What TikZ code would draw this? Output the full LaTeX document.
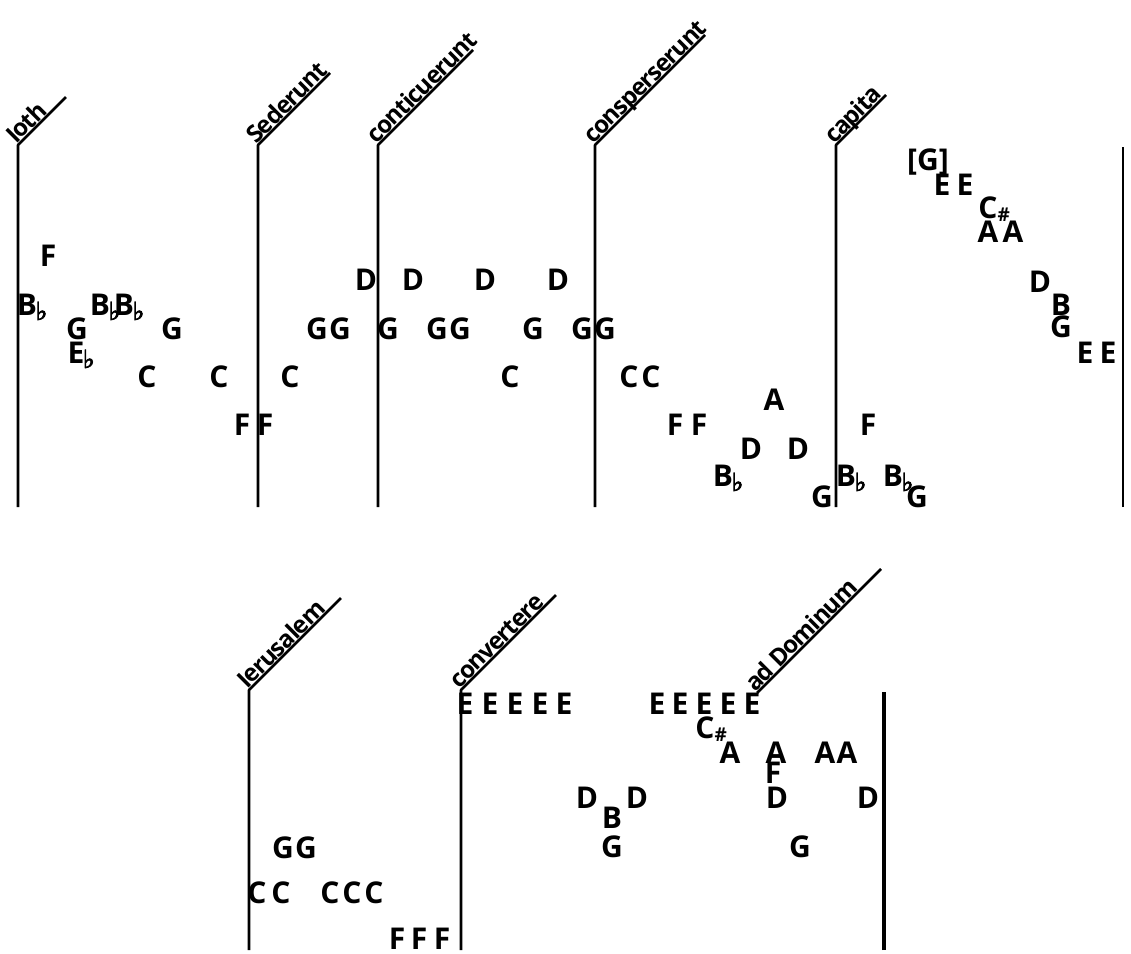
\documentclass[tikz,border=0pt]{standalone}
\usepackage{fontspec}
\setmainfont{Open Sans}
\newfontfamily\symf{DejaVu Sans}[FakeBold=3]
\newcommand\fl{\rlap{\smash{\raisebox{-4.5pt}{\kern-1.5pt\fontsize{25}{25}\symf\bfseries ♭}}}}
\newcommand\shp{\rlap{\smash{\raisebox{-3pt}{\fontsize{19}{19}\selectfont\bfseries\#}}}}
\begin{document}
\begin{tikzpicture}[x=1pt,y=-1pt,
  note/.style={font=\fontsize{30}{30}\selectfont\bfseries, inner sep=0pt, anchor=base, yshift=-10.5pt},
  lbl/.style={font=\fontsize{24}{24}\selectfont\bfseries\addfontfeature{LetterSpace=-4}, inner sep=0pt, anchor=base west, rotate=45, xshift=-1.5pt, yshift=1.5pt},
  bar/.style={line width=2.6pt, line join=round},
  thickbar/.style={line width=4.5pt}]
\useasboundingbox (0,0) rectangle (1131,953);
% ---- top system barlines
\coordinate (t1) at (18,145);  \coordinate (b1) at (18,507);
\coordinate (t2) at (258,145); \coordinate (b2) at (258,507);
\coordinate (t3) at (378,145); \coordinate (b3) at (378,507);
\coordinate (t4) at (595,145); \coordinate (b4) at (595,507);
\coordinate (t5) at (836,145); \coordinate (b5) at (836,507);
\coordinate (t6) at (1123,147); \coordinate (b6) at (1123,507);
\draw[bar] (b1) -- (t1) -- ++(48,-48);
\draw[bar] (b2) -- (t2) -- ++(72,-72);
\draw[bar] (b3) -- (t3) -- ++(95,-95);
\draw[bar] (b4) -- (t4) -- ++(110,-110);
\draw[bar] (b5) -- (t5) -- ++(50,-50);
\draw[bar] (b6) -- (t6);
\node[lbl] (L1) at (t1) {Ioth};
\node[lbl] (L2) at (t2) {Sederunt};
\node[lbl] (L3) at (t3) {conticuerunt};
\node[lbl] (L4) at (t4) {consperserunt};
\node[lbl] (L5) at (t5) {capita};
% ---- bottom system barlines
\coordinate (t7) at (249,690); \coordinate (b7) at (249,950);
\coordinate (t8) at (461,690); \coordinate (b8) at (461,950);
\coordinate (t9) at (757,693);
\coordinate (t10) at (884,692); \coordinate (b10) at (884,950);
\draw[bar] (b7) -- (t7) -- ++(92,-92);
\draw[bar] (b8) -- (t8) -- ++(95,-95);
\draw[bar] (t9) -- ++(124,-124);
\draw[thickbar] (b10) -- (t10);
\node[lbl] (L7) at (t7) {Ierusalem};
\node[lbl] (L8) at (t8) {convertere};
\node[lbl] (L9) at (t9) {ad Dominum};
% ---- top notes
\node[note] (n1) at (48,256) {F};
\node[note] (n2) at (27,305) {B\fl};
\node[note] (n3) at (77,329) {G};
\node[note] (n4) at (76,353) {E\fl};
\node[note] (n5) at (100,305) {B\fl};
\node[note] (n6) at (124,305) {B\fl};
\node[note] (n7) at (172,329) {G};
\node[note] (n8) at (147,377) {C};
\node[note] (n9) at (219,377) {C};
\node[note] (n10) at (242,425) {F};
\node[note] (n11) at (265,425) {F};
\node[note] (n12) at (290,377) {C};
\node[note] (n13) at (317,329) {G};
\node[note] (n14) at (340,329) {G};
\node[note] (n15) at (366,280) {D};
\node[note] (n16) at (388,329) {G};
\node[note] (n17) at (413,280) {D};
\node[note] (n18) at (437,329) {G};
\node[note] (n19) at (460,329) {G};
\node[note] (n20) at (485,280) {D};
\node[note] (n21) at (510,377) {C};
\node[note] (n22) at (533,329) {G};
\node[note] (n23) at (558,280) {D};
\node[note] (n24) at (582,329) {G};
\node[note] (n25) at (605,329) {G};
\node[note] (n26) at (629,377) {C};
\node[note] (n27) at (651,377) {C};
\node[note] (n28) at (675,425) {F};
\node[note] (n29) at (699,425) {F};
\node[note] (n30) at (723,476) {B\fl};
\node[note] (n31) at (751,449) {D};
\node[note] (n32) at (774,400) {A};
\node[note] (n33) at (798,449) {D};
\node[note] (n34) at (822,497) {G};
\node[note] (n35) at (846,476) {B\fl};
\node[note] (n36) at (868,425) {F};
\node[note] (n37) at (893,476) {B\fl};
\node[note] (n38) at (917,497) {G};
\node[note] (n39) at (928,160) {[G]};
\node[note] (n40) at (942,185) {E};
\node[note] (n41) at (965,185) {E};
\node[note] (n42) at (988,208) {C\shp};
\node[note] (n43) at (988,232) {A};
\node[note] (n44) at (1013,232) {A};
\node[note] (n45) at (1040,282) {D};
\node[note] (n46) at (1061,305) {B};
\node[note] (n47) at (1061,327) {G};
\node[note] (n48) at (1085,353) {E};
\node[note] (n49) at (1108,353) {E};
% ---- bottom notes
\node[note] (m1) at (283,848) {G};
\node[note] (m2) at (306,848) {G};
\node[note] (m3) at (257,893) {C};
\node[note] (m4) at (281,893) {C};
\node[note] (m5) at (330,893) {C};
\node[note] (m6) at (352,893) {C};
\node[note] (m7) at (374,893) {C};
\node[note] (m8) at (397,939) {F};
\node[note] (m9) at (419,939) {F};
\node[note] (m10) at (442,939) {F};
\node[note] (m11) at (465,704) {E};
\node[note] (m12) at (490,704) {E};
\node[note] (m13) at (515,704) {E};
\node[note] (m14) at (540,704) {E};
\node[note] (m15) at (564,704) {E};
\node[note] (m16) at (657,704) {E};
\node[note] (m17) at (680,704) {E};
\node[note] (m18) at (704,704) {E};
\node[note] (m19) at (728,704) {E};
\node[note] (m20) at (752,704) {E};
\node[note] (m21) at (705,728) {C\shp};
\node[note] (m22) at (730,753) {A};
\node[note] (m23) at (776,753) {A};
\node[note] (m24) at (773,773) {F};
\node[note] (m25) at (825,753) {A};
\node[note] (m26) at (847,753) {A};
\node[note] (m27) at (587,798) {D};
\node[note] (m28) at (637,798) {D};
\node[note] (m29) at (612,818) {B};
\node[note] (m30) at (612,847) {G};
\node[note] (m31) at (777,798) {D};
\node[note] (m32) at (868,798) {D};
\node[note] (m33) at (800,847) {G};
\end{tikzpicture}
\end{document}
